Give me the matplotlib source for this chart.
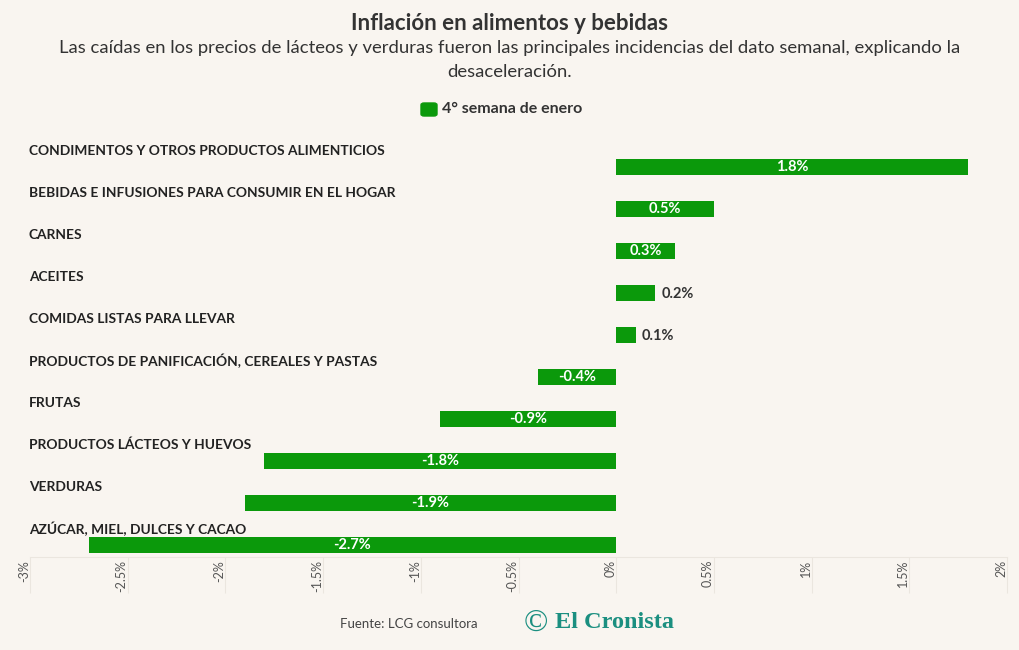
import matplotlib.pyplot as plt
import matplotlib.transforms as mtransforms
from matplotlib.patches import FancyBboxPatch

# Data
categorias = [
    "CONDIMENTOS Y OTROS PRODUCTOS ALIMENTICIOS",
    "BEBIDAS E INFUSIONES PARA CONSUMIR EN EL HOGAR",
    "CARNES",
    "ACEITES",
    "COMIDAS LISTAS PARA LLEVAR",
    "PRODUCTOS DE PANIFICACIÓN, CEREALES Y PASTAS",
    "FRUTAS",
    "PRODUCTOS LÁCTEOS Y HUEVOS",
    "VERDURAS",
    "AZÚCAR, MIEL, DULCES Y CACAO",
]
valores = [1.8, 0.5, 0.3, 0.2, 0.1, -0.4, -0.9, -1.8, -1.9, -2.7]
ticks = [-3, -2.5, -2, -1.5, -1, -0.5, 0, 0.5, 1, 1.5, 2]
tick_labels = ["-3%", "-2.5%", "-2%", "-1.5%", "-1%", "-0.5%", "0%", "0.5%", "1%", "1.5%", "2%"]

BG = "#f9f5f0"
GREEN = "#0b990b"
DARK = "#222222"

plt.rcParams["font.family"] = ["Lato", "DejaVu Sans"]

W, H = 1020, 650
fig = plt.figure(figsize=(W / 100, H / 100), dpi=100, facecolor=BG)

# Axes placed in pixel coordinates: x 30..1007, y 140..557
ax = fig.add_axes([30 / W, 1 - 557 / H, (1007 - 30) / W, (557 - 140) / H])
ax.set_facecolor(BG)

y = list(range(len(valores)))
ax.barh(y, valores, height=16 / 42, color=GREEN)
ax.set_xlim(-3, 2)
ax.set_ylim(9.286, -0.64)

# Category labels above each bar
trans = mtransforms.blended_transform_factory(ax.transAxes, ax.transData)
for i, cat in enumerate(categorias):
    ax.text(-1 / (1007 - 30), i - 0.38, cat, transform=trans, ha="left", va="center",
            fontsize=9.9, fontweight="bold", color=DARK)

# Value labels
for i, v in enumerate(valores):
    txt = f"{v:.1f}%"
    if abs(v) >= 0.3:
        ax.text(v / 2, i, txt, ha="center", va="center", fontsize=10.5,
                fontweight="bold", color="white")
    else:
        ax.text(v + 0.03, i + 0.03, txt, ha="left", va="center", fontsize=10.5,
                fontweight="bold", color="#333333")

ax.set_xticks(ticks)
ax.set_xticklabels(tick_labels, rotation=90, fontsize=9, color="#555555")
ax.tick_params(axis="x", length=26, width=0.8, color="#ebe6df", pad=-24)
for lbl in ax.get_xticklabels():
    lbl.set_horizontalalignment("right")
    lbl.set_verticalalignment("top")
ax.set_yticks([])
for side in ["top", "right", "left"]:
    ax.spines[side].set_visible(False)
ax.spines["bottom"].set_color("#ebe6df")
ax.spines["bottom"].set_linewidth(0.8)

# Title and subtitle
fig.text(0.5, 1 - 24 / H, "Inflación en alimentos y bebidas", ha="center", va="center",
         fontsize=16, fontweight="bold", color="#333333")
fig.text(0.5, 1 - 48 / H, "Las caídas en los precios de lácteos y verduras fueron las principales incidencias del dato semanal, explicando la",
         ha="center", va="center", fontsize=13.3, color="#333333")
fig.text(0.5, 1 - 72 / H, "desaceleración.", ha="center", va="center", fontsize=13.3, color="#333333")

# Legend
fig.patches.append(FancyBboxPatch((421 / W, 1 - 116 / H), 16 / W, 13 / H,
                                  boxstyle="round,pad=0,rounding_size=0.003",
                                  transform=fig.transFigure, color=GREEN))
fig.text(442 / W, 1 - 109 / H, "4° semana de enero", ha="left", va="center",
         fontsize=11.5, fontweight="bold", color="#333333")

# Footer
fig.text(478 / W, 1 - 624 / H, "Fuente: LCG consultora", ha="right", va="center",
         fontsize=9.5, color="#444444")
fig.text(536 / W, 1 - 623 / H, "©", ha="center", va="center", fontsize=23,
         color="#1b8f80", family=["Liberation Serif", "DejaVu Serif"])
fig.text(555 / W, 1 - 622 / H, "El Cronista", ha="left", va="center", fontsize=17.5,
         fontweight="bold", color="#1b8f80", family=["Liberation Serif", "DejaVu Serif"])

fig.savefig("out.png", dpi=100, facecolor=BG)
